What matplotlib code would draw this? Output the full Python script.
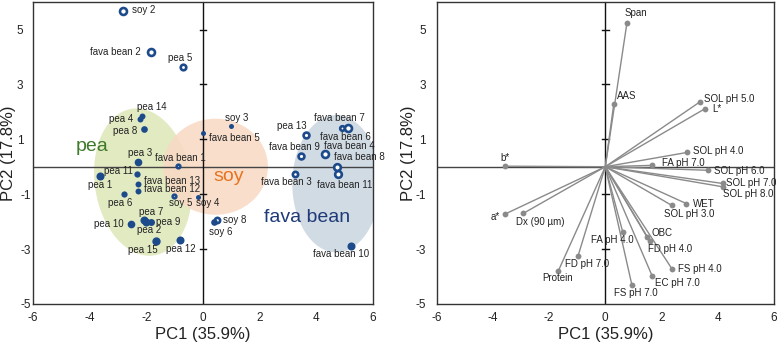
import matplotlib.pyplot as plt
from matplotlib.patches import Ellipse
from matplotlib.transforms import ScaledTranslation

plt.rcParams['font.family'] = ['Liberation Sans', 'DejaVu Sans']
plt.rcParams['axes.unicode_minus'] = False

# scores plot (PC1, PC2)
score_names = ['soy 2', 'fava bean 2', 'pea 5', 'pea 14', 'pea 4', 'pea 8', 'pea 3',
               'fava bean 1', 'pea 11', 'pea 1', 'fava bean 13', 'fava bean 12', 'pea 6',
               'soy 5', 'soy 4', 'pea 7', 'pea 9', 'pea 2', 'pea 10', 'pea 15', 'pea 12',
               'soy 3', 'fava bean 5', 'pea 13', 'fava bean 7', 'fava bean 6', 'fava bean 9',
               'fava bean 4', 'fava bean 8', 'fava bean 11', 'fava bean 3', 'soy 8', 'soy 6',
               'fava bean 10']
score_pc1 = [-2.83, -1.85, -0.71, -2.17, -2.22, -2.08, -2.31, -0.89, -2.34, -3.64, -2.31, -2.31,
             -2.80, -1.04, -0.19, -2.08, -1.85, -2.01, -2.55, -1.65, -0.80, 1.00, 0.01, 3.64,
             4.90, 5.10, 3.46, 4.31, 4.72, 4.78, 3.23, 0.51, 0.37, 5.22]
score_pc2 = [5.68, 4.17, 3.65, 1.85, 1.73, 1.36, 0.17, 0.04, -0.26, -0.32, -0.63, -0.89, -1.01,
             -1.08, -1.10, -1.95, -2.02, -2.02, -2.07, -2.70, -2.67, 1.50, 1.23, 1.17, 1.41,
             1.41, 0.39, 0.45, 0.00, -0.27, -0.25, -1.93, -2.02, -2.89]
score_open = [True, True, True, False, False, False, False, True, False, False, False, False,
              False, True, False, False, False, False, False, False, False, False, False, True,
              True, True, True, True, True, True, True, True, False, False]

# loadings plot
load_names = ['Span', 'AAS', 'SOL pH 5.0', 'L*', 'SOL pH 4.0', 'FA pH 7.0', 'SOL pH 6.0',
              'SOL pH 7.0', 'SOL pH 8.0', 'WET', 'SOL pH 3.0', 'OBC', 'FA pH 4.0', 'FD pH 4.0',
              'FS pH 4.0', 'EC pH 7.0', 'FS pH 7.0', 'b*', 'a*', 'Dx (90 µm)', 'FD pH 7.0',
              'Protein']
load_pc1 = [0.77, 0.30, 3.38, 3.56, 2.91, 1.65, 3.67, 4.18, 4.18, 2.88, 2.37, 1.48, 0.62, 1.59,
            2.38, 1.67, 0.95, -3.56, -3.58, -2.92, -0.97, -1.67]
load_pc2 = [5.23, 2.27, 2.37, 2.12, 0.52, 0.05, -0.13, -0.61, -0.73, -1.34, -1.41, -2.55, -2.37,
            -2.71, -3.73, -3.98, -4.32, 0.02, -1.73, -1.70, -3.25, -3.79]

xticks = [-6, -4, -2, 0, 2, 4, 6]
yticks = [5, 3, 1, -1, -3, -5]

# marker sizes (points) and label placement (offset in pixels, ha)
score_size = [5.0, 5.0, 4.0, 4.3, 4.3, 4.8, 5.5, 2.6, 4.5, 5.8, 4.3, 4.3, 4.5, 2.6, 3.6, 5.8,
              5.0, 5.8, 5.5, 6.0, 5.8, 3.6, 3.6, 4.2, 3.3, 5.0, 4.2, 5.0, 4.8, 4.8, 3.8, 3.8,
              4.8, 5.8]
score_pos = {
    'soy 2': (9, 1, 'left'), 'fava bean 2': (-10, 0, 'right'),
    'pea 5': (-2.5, 9, 'center'), 'pea 14': (-5, 9, 'left'),
    'pea 4': (-7, 0, 'right'), 'pea 8': (-7, -2, 'right'),
    'pea 3': (3, 9, 'center'), 'fava bean 1': (3, 8, 'center'),
    'pea 11': (-4, 3, 'right'), 'pea 1': (0, -9, 'center'),
    'fava bean 13': (6, 3.5, 'left'), 'fava bean 12': (6, 2, 'left'),
    'pea 6': (-3, -9, 'center'), 'soy 5': (7, -6.5, 'center'),
    'soy 4': (-2, -6, 'left'), 'pea 7': (7, 8, 'center'),
    'pea 9': (5, 0, 'left'), 'pea 2': (3, -8, 'center'),
    'pea 10': (-6.7, -0.7, 'right'), 'pea 15': (-13, -9, 'center'),
    'pea 12': (0, -9, 'center'), 'soy 3': (5, 8, 'center'),
    'fava bean 5': (6, -5, 'left'), 'pea 13': (-14.5, 8.6, 'center'),
    'fava bean 7': (-3, 10, 'center'), 'fava bean 6': (-2, -9, 'center'),
    'fava bean 9': (19, 8.7, 'right'), 'fava bean 4': (-1, 8, 'left'),
    'fava bean 8': (-3, 10, 'left'), 'fava bean 11': (6, -11, 'center'),
    'fava bean 3': (-8, -8, 'center'), 'soy 8': (5.4, 0, 'left'),
    'soy 6': (7, -9.7, 'center'), 'fava bean 10': (-10, -8, 'center'),
}
load_pos = {
    'Span': (9, 10.7, 'center'), 'AAS': (3, 8, 'left'),
    'SOL pH 5.0': (4, 2.3, 'left'), 'L*': (7, 0, 'left'),
    'SOL pH 4.0': (6, 1, 'left'), 'FA pH 7.0': (10, 2, 'left'),
    'SOL pH 6.0': (6, -1, 'left'), 'SOL pH 7.0': (3, 0, 'left'),
    'SOL pH 8.0': (0, -7, 'left'), 'WET': (7, -0.7, 'left'),
    'SOL pH 3.0': (17, -8.7, 'center'), 'OBC': (5, 3.7, 'left'),
    'FA pH 4.0': (-10, -8.3, 'center'), 'FD pH 4.0': (-2, -8, 'left'),
    'FS pH 4.0': (6, 0, 'left'), 'EC pH 7.0': (3, -7, 'left'),
    'FS pH 7.0': (4, -7.7, 'center'), 'b*': (0, 8, 'center'),
    'a*': (-5, -3, 'right'), 'Dx (90 µm)': (-7, -8.7, 'left'),
    'FD pH 7.0': (-13, -8, 'left'), 'Protein': (-0.5, -7.3, 'center'),
}

blue = '#1c4a8a'
grey = '#8a8a8a'
px = 0.72  # pixels -> points at 100 dpi

fig = plt.figure(figsize=(7.8, 3.45), dpi=100)
ax1 = fig.add_axes([0.0423, 0.119, 0.436, 0.875])
ax2 = fig.add_axes([0.560, 0.119, 0.432, 0.875])


def setup(ax, ylab_x, ypad):
    ax.set_xlim(-6, 6)
    ax.set_ylim(-5, 6)
    ax.set_xticks(xticks)
    ax.set_yticks(yticks)
    ax.tick_params(length=0, labelsize=8.5, colors='#222222')
    ax.tick_params(axis='x', pad=6)
    ax.tick_params(axis='y', pad=ypad)
    ax.axhline(0, color='#444444', lw=1, zorder=1)
    ax.axvline(0, color='#111111', lw=1, zorder=1)
    for yt in yticks[:-1]:
        ax.plot([-0.12, 0.12], [yt, yt], color='#111111', lw=1, zorder=1)
    for s in ax.spines.values():
        s.set_color('#333333')
        s.set_linewidth(1)
    ax.set_xlabel('PC1 (35.9%)', fontsize=12, labelpad=2, color='#222222')
    ax.set_ylabel('PC2 (17.8%)', fontsize=12, color='#222222', va='center')
    ax.yaxis.set_label_coords(ylab_x, 0.5)


setup(ax1, -0.072, 1.2)
setup(ax2, -0.083, 8)

# left panel: positive y labels sit further from the spine
fig.canvas.draw()
for lab, yt in zip(ax1.get_yticklabels(), yticks):
    if yt > 0:
        lab.set_transform(lab.get_transform() + ScaledTranslation(-0.08, 0, fig.dpi_scale_trans))

# group ellipses
ax1.add_patch(Ellipse((-2.12, -0.56), 3.4, 5.4, angle=8, facecolor='#e2eac2', edgecolor='none', zorder=0))
ax1.add_patch(Ellipse((0.44, 0.0), 3.7, 3.5, facecolor='#f9d9c4', edgecolor='none', alpha=0.85, zorder=0))
ax1.add_patch(Ellipse((4.70, -0.62), 3.1, 5.0, facecolor='#cfd9e3', edgecolor='none', alpha=0.95, zorder=0))
ax1.text(-3.9, 0.72, 'pea', fontsize=14, color='#3f7a2b', ha='center', va='center')
ax1.text(0.92, -0.36, 'soy', fontsize=14, color='#e8731e', ha='center', va='center')
ax1.text(3.66, -1.85, 'fava bean', fontsize=14, color='#1f3a78', ha='center', va='center')

for i, name in enumerate(score_names):
    if score_open[i]:
        ax1.plot(score_pc1[i], score_pc2[i], 'o', ms=score_size[i], mfc='white', mec=blue, mew=1.9, zorder=3)
    else:
        ax1.plot(score_pc1[i], score_pc2[i], 'o', ms=score_size[i], mfc=blue, mew=0, zorder=3)
    dx, dy, ha = score_pos[name]
    ax1.annotate(name, (score_pc1[i], score_pc2[i]), xytext=(dx * px, dy * px), textcoords='offset points',
                 ha=ha, va='center', fontsize=7, color='#222222', zorder=4)

for i, name in enumerate(load_names):
    ax2.plot([0, load_pc1[i]], [0, load_pc2[i]], color=grey, lw=1, zorder=2)
    ax2.plot(load_pc1[i], load_pc2[i], 'o', ms=4.2, color=grey, mew=0, zorder=3)
    dx, dy, ha = load_pos[name]
    ax2.annotate(name, (load_pc1[i], load_pc2[i]), xytext=(dx * px, dy * px), textcoords='offset points',
                 ha=ha, va='center', fontsize=7, color='#222222', zorder=4)

fig.savefig('out.png', dpi=100)
